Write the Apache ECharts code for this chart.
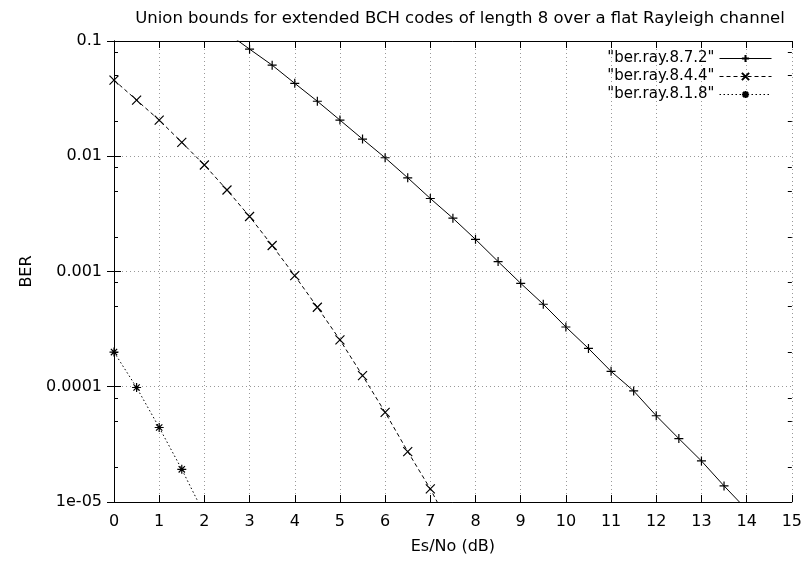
<!DOCTYPE html>
<html><head><meta charset="utf-8">
<script src="https://cdn.jsdelivr.net/npm/echarts@6/dist/echarts.min.js"></script>
<style>html,body{margin:0;padding:0;background:#fff}#c{width:805px;height:561px}</style>
</head><body><div id="c"></div>
<script>
const titleText = 'Union bounds for extended BCH codes of length 8 over a flat Rayleigh channel';
const xName = 'Es/No (dB)';
const yName = 'BER';
const seriesNames = ['"ber.ray.8.7.2"', '"ber.ray.8.4.4"', '"ber.ray.8.1.8"'];
const yTickLabels = ['1e-05', '0.0001', '0.001', '0.01', '0.1'];
const yMinorTicks = [2e-5, 5e-5, 8e-5, 2e-4, 5e-4, 8e-4, 2e-3, 5e-3, 8e-3, 2e-2, 5e-2, 8e-2];

const x872 = [2.5, 3, 3.5, 4, 4.5, 5, 5.5, 6, 6.5, 7, 7.5, 8, 8.5, 9, 9.5, 10, 10.5, 11, 11.5, 12, 12.5, 13, 13.5, 14];
const y872 = [0.118, 0.085, 0.0617, 0.0429, 0.030, 0.0206, 0.0141, 0.0097, 0.0065, 0.0043, 0.0029, 0.0019, 0.00122, 0.00079, 0.00052, 0.00033, 0.000215, 0.000136, 0.000092, 0.000056, 0.0000355, 0.0000227, 0.0000138, 0.0000086];
const x844 = [0, 0.5, 1, 1.5, 2, 2.5, 3, 3.5, 4, 4.5, 5, 5.5, 6, 6.5, 7, 7.5];
const y844 = [0.0458, 0.0307, 0.0206, 0.0132, 0.0084, 0.0051, 0.0030, 0.00168, 0.00092, 0.00049, 0.000255, 0.000125, 0.00006, 0.0000274, 0.000013, 0.0000055];
const x818 = [0, 0.5, 1, 1.5, 2];
const y818 = [0.0002, 0.0000985, 0.0000443, 0.0000192, 0.0000078];

const FONT = 'DejaVu Sans, Liberation Sans, sans-serif';
const pair = (xs, ys) => xs.map((x, i) => [x, ys[i]]);
const symPlus = 'path://M0,5L10,5M5,0L5,10';
const symX = 'path://M0,0L10,10M10,0L0,10';
const symStar = 'path://M0,5L10,5M5,0L5,10M1.5,1.5L8.5,8.5M8.5,1.5L1.5,8.5';

function mkSeries(name, data, sym, dash) {
  return {
    name, type: 'line', data, xAxisIndex: 0, yAxisIndex: 0,
    symbol: sym, symbolSize: 9, showSymbol: true, clip: true,
    lineStyle: { color: '#000', width: 1, type: dash },
    itemStyle: { color: 'rgba(0,0,0,0)', borderColor: '#000', borderWidth: 1.2 },
    emphasis: { disabled: true }, animation: false
  };
}

const chart = echarts.init(document.getElementById('c'), null, { renderer: 'canvas' });
const baseX = {
  type: 'value', min: 0, max: 15, interval: 1,
  axisLine: { show: true, lineStyle: { color: '#000', width: 1 } },
  axisTick: { show: true, inside: true, length: 7, lineStyle: { color: '#000' } }
};
chart.setOption({
  animation: false,
  backgroundColor: '#fff',
  title: { text: titleText, left: 455, top: 5, textAlign: 'center',
    textStyle: { fontFamily: FONT, fontSize: 16.5, fontWeight: 'normal', color: '#000' } },
  grid: { left: 114, right: 11, top: 41, bottom: 59, containLabel: false },
  legend: {
    data: seriesNames, orient: 'vertical', right: 28, top: 46, align: 'right',
    itemWidth: 52, itemHeight: 9, itemGap: 3,
    lineStyle: { width: 1 },
    textStyle: { fontFamily: FONT, fontSize: 15, color: '#000' }
  },
  xAxis: [
    Object.assign({}, baseX, {
      position: 'bottom',
      axisLabel: { fontFamily: FONT, fontSize: 16, color: '#000', margin: 12 },
      splitLine: { show: true, lineStyle: { color: '#999', type: [1, 3], width: 1 } },
      name: xName, nameLocation: 'middle', nameGap: 37,
      nameTextStyle: { fontFamily: FONT, fontSize: 16, color: '#000' }
    }),
    Object.assign({}, baseX, { position: 'top', axisLabel: { show: false }, splitLine: { show: false } })
  ],
  yAxis: [
    {
      type: 'log', logBase: 10, min: 1e-5, max: 0.1, interval: 1, position: 'left',
      axisLine: { show: true, lineStyle: { color: '#000', width: 1 } },
      axisTick: { show: true, inside: true, length: 7, lineStyle: { color: '#000' } },
      axisLabel: { fontFamily: FONT, fontSize: 16, color: '#000', margin: 12,
        formatter: v => yTickLabels[Math.round(Math.log10(v)) + 5] },
      splitLine: { show: true, lineStyle: { color: '#999', type: [1, 3], width: 1 } },
      name: yName, nameLocation: 'middle', nameGap: 66, nameRotate: 90,
      nameTextStyle: { fontFamily: FONT, fontSize: 16, color: '#000' }
    },
    {
      type: 'log', logBase: 10, min: 1e-5, max: 0.1, interval: 1, position: 'right',
      axisLine: { show: true, lineStyle: { color: '#000', width: 1 } },
      axisTick: { show: true, inside: true, length: 7, lineStyle: { color: '#000' } },
      axisLabel: { show: false }, splitLine: { show: false }
    },
    {
      type: 'value', min: -5, max: -1, position: 'left',
      axisLine: { show: false },
      axisTick: { show: true, inside: true, length: 4, lineStyle: { color: '#000' },
        customValues: yMinorTicks.map(v => Math.log10(v)) },
      axisLabel: { show: false }, splitLine: { show: false }
    },
    {
      type: 'value', min: -5, max: -1, position: 'right',
      axisLine: { show: false },
      axisTick: { show: true, inside: true, length: 4, lineStyle: { color: '#000' },
        customValues: yMinorTicks.map(v => Math.log10(v)) },
      axisLabel: { show: false }, splitLine: { show: false }
    }
  ],
  series: [
    mkSeries(seriesNames[0], pair(x872, y872), symPlus, 'solid'),
    mkSeries(seriesNames[1], pair(x844, y844), symX, [4, 3]),
    mkSeries(seriesNames[2], pair(x818, y818), symStar, [1.5, 2.5])
  ]
});
</script></body></html>
